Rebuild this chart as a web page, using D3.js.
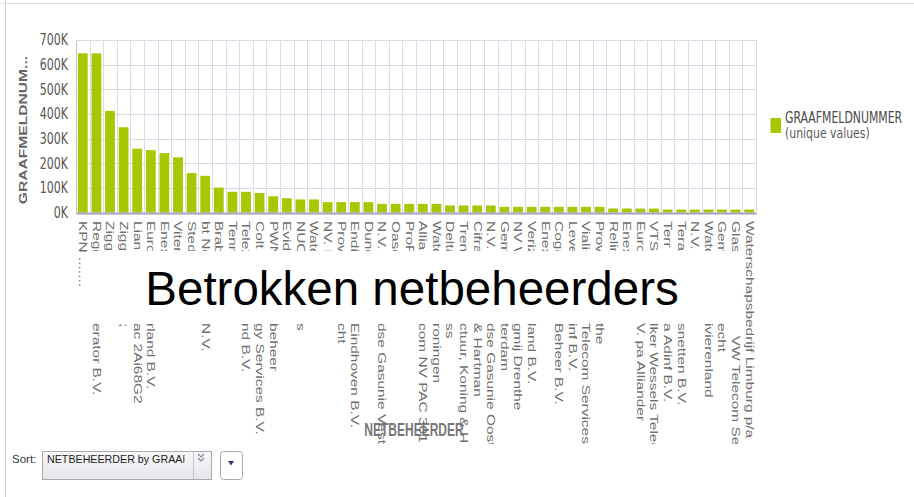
<!DOCTYPE html>
<html>
<head>
<meta charset="utf-8">
<script src="https://d3js.org/d3.v7.min.js"></script>
<style>
  body { margin: 0; background: #fff; }
  svg { display: block; }
  .kop, .staart { font-family: "Liberation Sans", Arial, sans-serif; font-size: 10.3px; fill: #6e6e6e; white-space: pre; }
  .tick text { font-family: "DejaVu Sans", sans-serif; font-size: 11px; fill: #555; }
</style>
</head>
<body>
<svg id="chart" width="914" height="497"></svg>
<script>
// netbeheerders (categories)
var netbeheerders = [
  "KPN .......", "Reggefiber Operator B.V.", "Ziggo B.V.", "Ziggo Zakelijk B.V.;", "Liander N.V. Pac 2Ai68G2",
  "Eurofiber Nederland B.V.", "Enexis B.V.", "Vitens N.V.", "Stedin B.V.", "bt Nederland N.V.",
  "Brabant Water N.V.", "Tennet TSO B.V.", "Tele2 Nederland B.V.", "Colt Technology Services B.V.", "PWN Waterleidingnetbeheer",
  "Evides N.V.", "NUON Warmte Services", "Waternet", "NV. Rendo", "Provincie Utrecht",
  "Endinet Eindhoven B.V.", "Dunea N.V.", "N.V. Nederlandse Gasunie Vestiging", "Oasen N.V.", "ProRail B.V.",
  "Alliander Telecom NV PAC 301", "Waterbedrijf Groningen", "Delta Comfort Access", "Trenchless Infrastructuur, Koning & Hartman", "Cifra Koning & Hartman",
  "N.V. Nederlandse Gasunie Oost", "Gemeente Rotterdam", "NV Waterleidingmij Drenthe", "Verizon Nederland B.V.", "Enexis Gas B.V.",
  "Cogas Infra en Beheer B.V.", "Leverancier Adinf B.V.", "Vialis Telecom Services", "Provincie Drenthe", "Reline Infra B.V.",
  "Enexis Infra B.V.", "Eurofiber B.V. pa Alliander", "VTS Volker Wessels Telecom", "Terra Adinf B.V.", "Teramo Glasnetten B.V.",
  "N.V. PWN", "Waterschap Rivierenland", "Gemeente Utrecht", "Glasvezel   VW Telecom Services", "Waterschapsbedrijf Limburg p/a"
];

// the part of each label that shows below the title box
var zichtbaarOnder = [
  "", "erator B.V.", "", ";", "ac 2Ai68G2",
  "rland B.V.", "", "", "", "N.V.",
  "", "", "nd B.V.", "gy Services B.V.", "beheer",
  "", "s", "", "", "cht",
  "Eindhoven B.V.", "", "dse Gasunie Vestiging", "", "",
  "com NV PAC 301", "roningen", "ss", "ctuur, Koning & Hartman", "& Hartman",
  "dse Gasunie Oost", "terdam", "gmij Drenthe", "land B.V.", "",
  "Beheer B.V.", "inf B.V.", "Telecom Services", "the", "",
  "", "V. pa Alliander", "lker Wessels Telecom", "a Adinf B.V.", "snetten B.V.",
  "", "ivierenland", "echt", "   VW Telecom Services", ""
];

// GRAAFMELDNUMMER (unique values)
var graafmeldnummers = [
  646000, 646000, 412000, 346000, 259000, 253000, 241000, 224000, 160000, 149000,
  101000, 84000, 84000, 79000, 66000, 58000, 53000, 53000, 42000, 42000,
  42000, 42000, 35000, 35000, 35000, 35000, 35000, 28500, 28500, 28500,
  28500, 23000, 23000, 23000, 23000, 23000, 23000, 23000, 23000, 16000,
  16000, 16000, 16000, 12000, 12000, 12000, 12000, 12000, 12000, 12000
];

var yTicks = [0, 100000, 200000, 300000, 400000, 500000, 600000, 700000];

var groen = "#a7c700";
var svg = d3.select("#chart");

// scales
var x = d3.scaleBand()
  .domain(netbeheerders)
  .range([76, 756])
  .paddingInner(0.28)
  .paddingOuter(0.14);

var y = d3.scaleLinear()
  .domain([0, 700000])
  .range([212.5, 40]);

// page frame
svg.append("line").attr("x1", 0).attr("x2", 914).attr("y1", 3.5).attr("y2", 3.5).attr("stroke", "#dedede");
svg.append("line").attr("x1", 5.5).attr("x2", 5.5).attr("y1", 0).attr("y2", 497).attr("stroke", "#d0d0d0");

// gridlines
var grid = svg.append("g");
grid.selectAll(".hgrid")
  .data(yTicks.slice(1))
  .enter().append("line")
  .attr("x1", 76).attr("x2", 756)
  .attr("y1", function(d) { return Math.round(y(d)) + 0.5; })
  .attr("y2", function(d) { return Math.round(y(d)) + 0.5; })
  .attr("stroke", "#d9d9e6");

var randen = netbeheerders.map(function(d) { return x(d) - x.step() * x.paddingInner() / 2; });
randen.push(x.range()[1]);
grid.selectAll(".vgrid")
  .data(randen.slice(1))
  .enter().append("line")
  .attr("x1", function(d) { return Math.round(d) + 0.5; })
  .attr("x2", function(d) { return Math.round(d) + 0.5; })
  .attr("y1", 40).attr("y2", 212)
  .attr("stroke", "#dcdce8");

// bars
svg.append("g").selectAll("rect")
  .data(graafmeldnummers)
  .enter().append("rect")
  .attr("x", function(d, i) { return x(netbeheerders[i]); })
  .attr("width", x.bandwidth())
  .attr("y", function(d) { return y(d); })
  .attr("height", function(d) { return y(0) - y(d); })
  .attr("fill", groen);

// y axis
var yAxis = svg.append("g")
  .attr("transform", "translate(76,0)")
  .call(d3.axisLeft(y).tickValues(yTicks).tickSize(0).tickPadding(8)
    .tickFormat(function(d) { return (d / 1000) + "K"; }));
yAxis.select(".domain").attr("stroke", "#c0c0d0");
yAxis.selectAll(".tick text").attr("transform", "scale(1,1.4)");

// x axis line
var xAxis = svg.append("g")
  .attr("transform", "translate(0,213)")
  .call(d3.axisBottom(x).tickSize(0).tickFormat(""));
xAxis.select(".domain").attr("stroke", "#a2a2ba").attr("stroke-width", 2);

// y axis title
svg.append("text")
  .attr("transform", "translate(27,130) rotate(-90) scale(1.42,1)")
  .attr("text-anchor", "middle")
  .style("font-family", "'Liberation Sans', Arial, sans-serif")
  .style("font-size", "11px")
  .style("font-weight", "bold")
  .style("fill", "#666")
  .text("GRAAFMELDNUM...");

// clip regions for the labels
var defs = svg.append("defs");
var clipKop = defs.append("clipPath").attr("id", "clipKop");
clipKop.append("rect").attr("x", 0).attr("y", 0).attr("width", 914).attr("height", 321);
clipKop.append("rect").attr("x", 0).attr("y", 0).attr("width", 87).attr("height", 444);
clipKop.append("rect").attr("x", 743).attr("y", 0).attr("width", 171).attr("height", 444);
defs.append("clipPath").attr("id", "clipOnder")
  .append("rect").attr("x", 0).attr("y", 0).attr("width", 914).attr("height", 444);

function midden(d) {
  return x(d) + x.bandwidth() / 2;
}

// category labels, rotated, start of the text
svg.append("g").attr("clip-path", "url(#clipKop)")
  .selectAll("text")
  .data(netbeheerders)
  .enter().append("text")
  .attr("class", "kop")
  .attr("transform", function(d) { return "translate(" + midden(d) + ",221) scale(1,1.5) rotate(90)"; })
  .attr("dy", "0.35em")
  .text(function(d, i) { return d.slice(0, d.length - zichtbaarOnder[i].length); });

// white title box hides the middle of the labels
svg.append("rect")
  .attr("x", 87).attr("y", 251)
  .attr("width", 656).attr("height", 71)
  .attr("fill", "#fff");

svg.append("text")
  .attr("x", 412).attr("y", 305)
  .attr("text-anchor", "middle")
  .style("font-family", "'Liberation Sans', Arial, sans-serif")
  .style("font-size", "47.5px")
  .style("fill", "#000")
  .text("Betrokken netbeheerders");

// end of the labels below the box
svg.append("g").attr("clip-path", "url(#clipOnder)")
  .selectAll("text")
  .data(netbeheerders)
  .enter().append("text")
  .attr("class", "staart")
  .attr("transform", function(d) { return "translate(" + midden(d) + ",323) scale(1,1.5) rotate(90)"; })
  .attr("dy", "0.35em")
  .text(function(d, i) { return zichtbaarOnder[i]; });

// x axis title
svg.append("text")
  .attr("transform", "translate(414,436) scale(1,1.6)")
  .attr("text-anchor", "middle")
  .style("font-family", "'Liberation Sans', Arial, sans-serif")
  .style("font-size", "12px")
  .style("font-weight", "bold")
  .style("fill", "#777")
  .text("NETBEHEERDER");

// legend
svg.append("rect").attr("x", 770.5).attr("y", 118).attr("width", 10.5).attr("height", 15).attr("fill", groen);
svg.append("text")
  .attr("transform", "translate(785,122.5) scale(1,1.4)")
  .style("font-family", "'DejaVu Sans', sans-serif").style("font-size", "10.9px").style("fill", "#4a4a4a")
  .text("GRAAFMELDNUMMER");
svg.append("text")
  .attr("transform", "translate(785,138) scale(1,1.35)")
  .style("font-family", "'DejaVu Sans', sans-serif").style("font-size", "10.9px").style("fill", "#5a5a5a")
  .text("(unique values)");

// sort control
var grad = defs.append("linearGradient").attr("id", "selGrad").attr("x1", 0).attr("x2", 0).attr("y1", 0).attr("y2", 1);
grad.append("stop").attr("offset", "0%").attr("stop-color", "#f8f8fa");
grad.append("stop").attr("offset", "100%").attr("stop-color", "#e4e4ea");
defs.append("clipPath").attr("id", "clipSel")
  .append("rect").attr("x", 43).attr("y", 451).attr("width", 141.5).attr("height", 28);

var sort = svg.append("g").style("font-family", "'Liberation Sans', Arial, sans-serif");
sort.append("text").attr("x", 12).attr("y", 462.5).style("font-size", "11.5px").style("fill", "#333").text("Sort:");
sort.append("rect").attr("x", 42.5).attr("y", 451.5).attr("width", 169).attr("height", 28)
  .attr("fill", "url(#selGrad)").attr("stroke", "#a9a9b4");
sort.append("line").attr("x1", 193.5).attr("x2", 193.5).attr("y1", 452).attr("y2", 479).attr("stroke", "#c4c4cc");
sort.append("text").attr("x", 47).attr("y", 462.5).attr("clip-path", "url(#clipSel)")
  .style("font-size", "10.7px").style("fill", "#222").text("NETBEHEERDER by GRAAFMELDNUMMER");
sort.append("path")
  .attr("d", "M198,454 L201,457 L204,454 M198,458 L201,461 L204,458")
  .attr("fill", "none").attr("stroke", "#8a8a96").attr("stroke-width", 1.2);
sort.append("rect").attr("x", 220.5).attr("y", 451.5).attr("width", 22).attr("height", 28).attr("rx", 3)
  .attr("fill", "#fff").attr("stroke", "#a9a9b4");
sort.append("path").attr("d", "M228,461 L234,461 L231,465.5 Z").attr("fill", "#2e3a5c");
</script>
</body>
</html>
